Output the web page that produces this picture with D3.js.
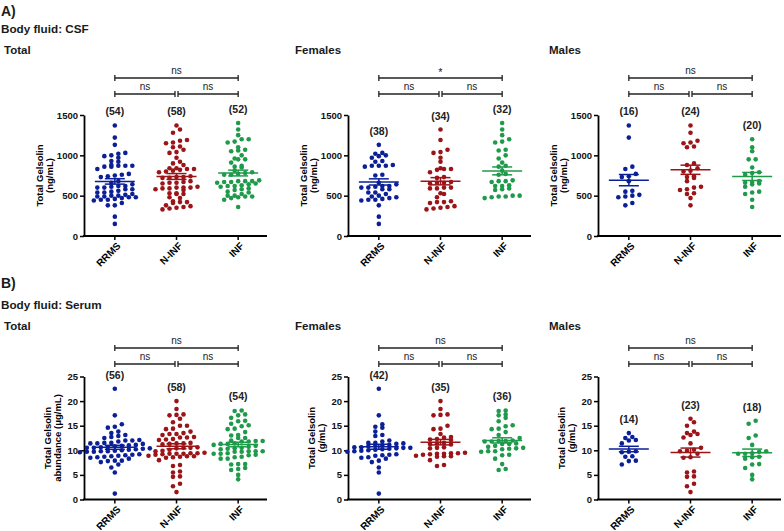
<!DOCTYPE html>
<html>
<head>
<meta charset="utf-8">
<script src="https://cdn.jsdelivr.net/npm/d3@7"></script>
<style>
body { margin: 0; background: #fff; }
text { font-family: Arial, "Liberation Sans", Helvetica, sans-serif; }
</style>
</head>
<body>
<div id="target"></div>
<script>
var width = 784,
    height = 531;

var groups = ['RRMS', 'N-INF', 'INF'];
var colorScale = ['#0b1f96', '#9b1418', '#1f9a4b'];

// CSF gelsolin (ng/mL)
var csfFemaleRRMS = [1130, 1030, 1020, 1000, 990, 970, 930, 920, 880, 870, 870, 860, 870, 620, 760, 750, 610, 600, 580, 660, 640, 620, 600, 580, 450, 440, 540, 540, 520, 500, 490, 480, 470, 460, 450, 380, 240, 150];
var csfFemaleNINF = [1320, 1190, 1070, 1040, 1030, 970, 920, 840, 830, 830, 820, 790, 730, 720, 670, 660, 660, 650, 600, 600, 590, 590, 530, 520, 480, 430, 420, 420, 410, 370, 360, 350, 340, 330];
var csfFemaleINF = [1400, 1320, 1250, 1200, 1170, 1160, 1070, 1060, 1000, 960, 910, 870, 860, 810, 770, 760, 690, 680, 680, 670, 630, 620, 620, 590, 580, 570, 500, 500, 490, 490, 480, 470];
var csfMaleRRMS = [1370, 1220, 860, 830, 770, 740, 730, 680, 560, 550, 510, 500, 490, 480, 410, 380];
var csfMaleNINF = [1370, 1280, 1180, 1160, 1150, 1110, 1100, 900, 880, 840, 810, 800, 740, 730, 720, 680, 610, 600, 580, 570, 530, 520, 470, 380];
var csfMaleINF = [1200, 1100, 1050, 950, 950, 850, 790, 780, 760, 680, 670, 660, 650, 640, 610, 550, 540, 520, 450, 360];

// serum gelsolin (ug/mL)
var serumFemaleRRMS = [22.5, 17.1, 15.3, 14.8, 14.6, 13.8, 13.1, 12.9, 12.0, 11.8, 11.5, 11.5, 11.4, 11.3, 11.1, 11.0, 10.9, 10.8, 10.6, 10.6, 10.5, 10.5, 10.4, 10.3, 10.2, 10.1, 10.0, 9.9, 9.8, 9.7, 9.2, 9.1, 9.0, 8.9, 8.6, 8.5, 8.3, 7.9, 7.6, 6.5, 5.5, 1.2];
var serumFemaleNINF = [20.0, 18.4, 17.3, 17.2, 17.1, 15.0, 14.4, 14.3, 13.3, 12.7, 12.6, 12.3, 12.2, 12.1, 11.5, 11.4, 11.3, 11.2, 10.6, 10.5, 10.4, 9.5, 9.4, 9.4, 9.3, 9.3, 9.2, 9.1, 8.9, 8.8, 8.8, 8.7, 8.0, 7.0, 6.8];
var serumFemaleINF = [18.1, 18.0, 17.3, 17.1, 16.6, 15.9, 15.1, 14.9, 14.4, 14.3, 13.7, 13.1, 12.5, 12.0, 11.9, 11.9, 11.8, 11.8, 11.4, 11.3, 11.3, 10.9, 10.7, 10.5, 10.4, 10.3, 10.2, 9.8, 9.8, 9.7, 9.1, 9.0, 8.3, 7.2, 6.2, 6.0];
var serumMaleRRMS = [13.5, 12.7, 12.5, 12.1, 12.0, 11.4, 9.8, 9.7, 9.6, 8.8, 8.7, 7.9, 7.8, 7.1];
var serumMaleNINF = [16.4, 15.7, 15.0, 13.8, 13.5, 13.3, 13.1, 12.6, 11.4, 10.5, 10.1, 9.9, 9.8, 9.3, 8.6, 8.5, 5.7, 5.5, 4.7, 4.6, 3.2, 2.7, 1.5];
var serumMaleINF = [16.0, 15.4, 13.0, 12.5, 11.1, 9.8, 9.7, 9.4, 9.3, 9.3, 8.7, 8.6, 8.3, 7.2, 7.1, 6.4, 5.0, 4.1];

var csfTicks = [0, 500, 1000, 1500];
var serumTicks = [0, 5, 10, 15, 20, 25];

// significance: [RRMS vs INF, RRMS vs N-INF, N-INF vs INF]
var csfSig = [['ns', 'ns', 'ns'], ['*', 'ns', 'ns'], ['ns', 'ns', 'ns']];
var serumSig = [['ns', 'ns', 'ns'], ['ns', 'ns', 'ns'], ['ns', 'ns', 'ns']];

var svg = d3.select('#target').append('svg')
    .attr('width', width)
    .attr('height', height);

var rows = [
    {top: 115, bottom: 236, max: 1500, ticks: csfTicks, brTop: 78, brLow: 94},
    {top: 376.5, bottom: 499.5, max: 25, ticks: serumTicks, brTop: 348, brLow: 364}
];
var cols = [84, 348, 598];

var panels = [
    {row: 0, col: 0, title: 'Total', sig: csfSig[0], yTitle: ['Total Gelsolin', '(ng/mL)'],
     data: [csfFemaleRRMS.concat(csfMaleRRMS), csfFemaleNINF.concat(csfMaleNINF), csfFemaleINF.concat(csfMaleINF)]},
    {row: 0, col: 1, title: 'Females', sig: csfSig[1], yTitle: ['Total Gelsolin', '(ng/mL)'],
     data: [csfFemaleRRMS, csfFemaleNINF, csfFemaleINF]},
    {row: 0, col: 2, title: 'Males', sig: csfSig[2], yTitle: ['Total Gelsolin', '(ng/mL)'],
     data: [csfMaleRRMS, csfMaleNINF, csfMaleINF]},
    {row: 1, col: 0, title: 'Total', sig: serumSig[0], yTitle: ['Total Gelsolin', 'abundance (\u03bcg/mL)'],
     data: [serumFemaleRRMS.concat(serumMaleRRMS), serumFemaleNINF.concat(serumMaleNINF), serumFemaleINF.concat(serumMaleINF)]},
    {row: 1, col: 1, title: 'Females', sig: serumSig[1], yTitle: ['Total Gelsolin', '(g/mL)'],
     data: [serumFemaleRRMS, serumFemaleNINF, serumFemaleINF]},
    {row: 1, col: 2, title: 'Males', sig: serumSig[2], yTitle: ['Total Gelsolin', '(g/mL)'],
     data: [serumMaleRRMS, serumMaleNINF, serumMaleINF]}
];

// headings
function label(txt, x, y, size) {
    svg.append('text').attr('x', x).attr('y', y)
        .attr('font-size', size).attr('font-weight', 'bold')
        .attr('fill', '#1a1a1a')
        .text(txt);
}
label('A)', 1, 16, 14);
label('Body fluid: CSF', 1, 33, 11.7);
label('B)', 1, 288, 14);
label('Body fluid: Serum', 1, 309, 11.7);

var titleX = [4, 295, 549];
var titleY = [54, 330];

// GraphPad-like scatter: points of similar value share a row
function swarm(vals, y, cx) {
    var pts = vals.map(function (v) { return {v: v, y: y(v)}; })
        .sort(function (a, b) { return b.y - a.y; });
    var bins = [], cur = null;
    pts.forEach(function (p) {
        if (!cur || p.y < cur.y0 - 4) {
            cur = {y0: p.y, pts: []};
            bins.push(cur);
        }
        cur.pts.push(p);
    });
    bins.forEach(function (b) {
        var n = b.pts.length;
        b.pts.forEach(function (p, i) {
            p.x = cx + (i - (n - 1) / 2) * 7;
        });
    });
    return pts;
}

function bracket(g, x1, x2, yy, txt) {
    g.append('line').attr('x1', x1).attr('x2', x2).attr('y1', yy).attr('y2', yy);
    g.append('line').attr('x1', x1).attr('x2', x1).attr('y1', yy - 3).attr('y2', yy + 3);
    g.append('line').attr('x1', x2).attr('x2', x2).attr('y1', yy - 3).attr('y2', yy + 3);
    g.append('text')
        .attr('x', (x1 + x2) / 2)
        .attr('y', txt == '*' ? yy - 2 : yy - 4)
        .attr('text-anchor', 'middle')
        .attr('font-size', txt == '*' ? 11 : 10)
        .attr('stroke', 'none')
        .attr('fill', '#222')
        .text(txt);
}

panels.forEach(function (p) {
    var r = rows[p.row];
    var ax = cols[p.col];
    var g = svg.append('g');

    var x = d3.scalePoint().domain(groups).range([ax, ax + 185]).padding(0.5);
    var y = d3.scaleLinear().domain([0, r.max]).range([r.bottom, r.top]);

    label(p.title, titleX[p.col], titleY[p.row], 11.5);

    // y axis
    var ya = g.append('g')
        .attr('transform', 'translate(' + ax + ',0)')
        .call(d3.axisLeft(y).tickValues(r.ticks).tickSize(4).tickSizeOuter(0)
            .tickPadding(2).tickFormat(d3.format('d')));
    ya.attr('font-family', 'Arial, "Liberation Sans", sans-serif');
    ya.select('.domain').attr('stroke-width', 1.8);
    ya.selectAll('.tick line').attr('stroke-width', 1.5);
    ya.selectAll('.tick text').attr('font-size', 9.5).attr('font-weight', 'bold').attr('fill', '#111');

    // y axis title
    var mid = (r.top + r.bottom) / 2;
    var off = p.row == 0 ? [-41.5, -31] : [-33.5, -23.5];
    p.yTitle.forEach(function (t, i) {
        g.append('text')
            .attr('transform', 'translate(' + (ax + off[i]) + ',' + mid + ') rotate(-90)')
            .attr('text-anchor', 'middle')
            .attr('font-size', 9.5)
            .attr('font-weight', 'bold')
            .text(t);
    });

    // x axis
    g.append('line')
        .attr('x1', ax - 0.9).attr('x2', ax + 183)
        .attr('y1', r.bottom).attr('y2', r.bottom)
        .attr('stroke', '#000').attr('stroke-width', 1.8);
    groups.forEach(function (c) {
        g.append('line')
            .attr('x1', x(c)).attr('x2', x(c))
            .attr('y1', r.bottom).attr('y2', r.bottom + 4)
            .attr('stroke', '#000').attr('stroke-width', 1.5);
        g.append('text')
            .attr('transform', 'translate(' + (x(c) + 4) + ',' + (r.bottom + 8) + ') rotate(-45)')
            .attr('text-anchor', 'end')
            .attr('dy', '0.35em')
            .attr('font-size', 10)
            .attr('font-weight', 'bold')
            .text(c);
    });

    // points, mean and SEM
    p.data.forEach(function (vals, i) {
        var cx = x(groups[i]);
        var col = colorScale[i];
        var pts = swarm(vals, y, cx);
        g.selectAll('circle.g' + i)
            .data(pts)
            .enter()
            .append('circle')
            .attr('cx', function (d) { return d.x; })
            .attr('cy', function (d) { return d.y; })
            .attr('r', 2.3)
            .style('fill', col);

        var m = d3.mean(vals);
        var sem = d3.deviation(vals) / Math.sqrt(vals.length);
        var lg = g.append('g').attr('stroke', col).attr('stroke-width', 1.5);
        lg.append('line').attr('x1', cx - 20).attr('x2', cx + 20).attr('y1', y(m)).attr('y2', y(m));
        lg.append('line').attr('x1', cx).attr('x2', cx).attr('y1', y(m - sem)).attr('y2', y(m + sem));
        lg.append('line').attr('x1', cx - 10).attr('x2', cx + 10).attr('y1', y(m - sem)).attr('y2', y(m - sem));
        lg.append('line').attr('x1', cx - 10).attr('x2', cx + 10).attr('y1', y(m + sem)).attr('y2', y(m + sem));

        // group size above the highest point
        g.append('text')
            .attr('x', cx)
            .attr('y', y(d3.max(vals)) - 10)
            .attr('text-anchor', 'middle')
            .attr('font-size', 10.5)
            .attr('font-weight', 'bold')
            .attr('fill', '#222')
            .text('(' + vals.length + ')');
    });

    // significance brackets
    var bg = g.append('g').attr('stroke', '#222').attr('stroke-width', 1.3);
    bracket(bg, x('RRMS'), x('INF'), r.brTop, p.sig[0]);
    bracket(bg, x('RRMS'), x('N-INF') - 1.5, r.brLow, p.sig[1]);
    bracket(bg, x('N-INF') + 1.5, x('INF'), r.brLow, p.sig[2]);
});
</script>
</body>
</html>
